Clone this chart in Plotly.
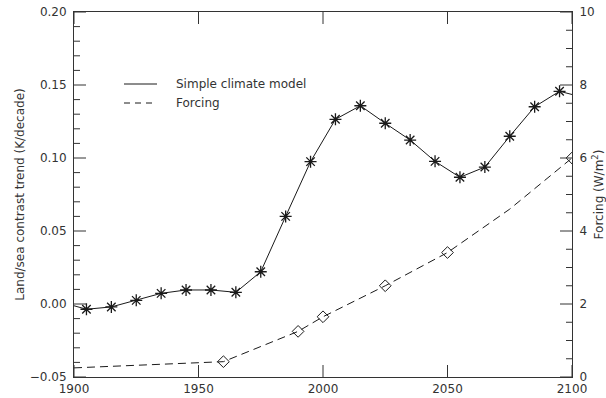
import plotly.graph_objects as go

# Simple climate model: land/sea contrast trend (K/decade), decadal means
model_years = [1905, 1915, 1925, 1935, 1945, 1955, 1965, 1975, 1985, 1995,
               2005, 2015, 2025, 2035, 2045, 2055, 2065, 2075, 2085, 2095]
model_trend = [-0.0036, -0.0020, 0.0025, 0.0073, 0.0096, 0.0096, 0.0080, 0.0221, 0.0600, 0.0975,
               0.1265, 0.1358, 0.1238, 0.1123, 0.0977, 0.0868, 0.0938, 0.1149, 0.1351, 0.1457]
# curve end points at the axis edges
model_start = (1900, -0.0012)
model_end = (2100, 0.1435)

# Radiative forcing (W/m^2)
forcing_marked_years = [1960, 1990, 2000, 2025, 2050, 2100]
forcing_marked_vals = [0.42, 1.25, 1.65, 2.50, 3.41, 6.00]
forcing_curve_years = [1900, 1960, 1990, 2000, 2025, 2050, 2075, 2100]
forcing_curve_vals = [0.25, 0.42, 1.25, 1.65, 2.50, 3.41, 4.60, 6.00]

x_ticks = [1900, 1950, 2000, 2050, 2100]
left_ticks = [-0.05, 0.00, 0.05, 0.10, 0.15, 0.20]
right_ticks = [0, 2, 4, 6, 8, 10]
left_minor_per_major = 5
right_minor_per_major = 4

INK = "#1a1a1a"
TXT = "#333333"
AX = "#333333"
FONT = "DejaVu Sans"

PLOT_W, PLOT_H = 498, 365
MAJOR_LEN, MINOR_LEN = 12, 6

fig = go.Figure()

line_x = [model_start[0]] + model_years + [model_end[0]]
line_y = [model_start[1]] + model_trend + [model_end[1]]
fig.add_trace(go.Scatter(x=line_x, y=line_y, mode="lines",
                         line=dict(color=INK, width=1), yaxis="y",
                         showlegend=False, hoverinfo="skip"))
fig.add_trace(go.Scatter(x=model_years, y=model_trend, mode="markers",
                         marker=dict(symbol="asterisk-open", size=10, color=INK,
                                     line=dict(color=INK, width=1.3)),
                         yaxis="y", showlegend=False))

fig.add_trace(go.Scatter(x=forcing_curve_years, y=forcing_curve_vals, mode="lines",
                         line=dict(color=INK, width=1, dash="8px,5px"), yaxis="y2",
                         showlegend=False, hoverinfo="skip"))
fig.add_trace(go.Scatter(x=forcing_marked_years, y=forcing_marked_vals, mode="markers",
                         marker=dict(symbol="diamond-open", size=9, color=INK,
                                     line=dict(color=INK, width=1)),
                         yaxis="y2", showlegend=False))

axis_common = dict(showgrid=False, zeroline=False, showline=True, automargin=False,
                   linecolor=AX, linewidth=1, ticks="",
                   tickfont=dict(family=FONT, size=12, color=TXT))

fig.update_layout(
    width=606, height=398,
    margin=dict(l=74, r=34, t=12, b=21),
    paper_bgcolor="white", plot_bgcolor="white",
    showlegend=False,
    xaxis=dict(range=[1900, 2100], tickvals=x_ticks, mirror=True,
               ticklabelstandoff=1, **axis_common),
    yaxis=dict(range=[left_ticks[0], left_ticks[-1]], tickvals=left_ticks, tickformat=".2f",
               ticklabelstandoff=4,
               title=dict(text="Land/sea contrast trend (K/decade)",
                          font=dict(family=FONT, size=12, color=TXT), standoff=2),
               **axis_common),
    yaxis2=dict(range=[right_ticks[0], right_ticks[-1]], tickvals=right_ticks,
                overlaying="y", side="right", ticklabelstandoff=4,
                title=dict(text="Forcing (W/m<sup>2</sup>)",
                           font=dict(family=FONT, size=12, color=TXT), standoff=2),
                **axis_common),
)

tick_line = dict(color=AX, width=1)


def y_tick(yref, value, length, on_right):
    frac = length / PLOT_W
    x0, x1 = (1 - frac, 1) if on_right else (0, frac)
    fig.add_shape(type="line", xref="paper", yref=yref, x0=x0, x1=x1,
                  y0=value, y1=value, line=tick_line, layer="above")


# inward ticks on the left (trend) axis
for i, v in enumerate(left_ticks):
    y_tick("y", v, MAJOR_LEN, False)
    if i + 1 < len(left_ticks):
        step = (left_ticks[i + 1] - v) / left_minor_per_major
        for k in range(1, left_minor_per_major):
            y_tick("y", v + k * step, MINOR_LEN, False)

# inward ticks on the right (forcing) axis
for i, v in enumerate(right_ticks):
    y_tick("y2", v, MAJOR_LEN, True)
    if i + 1 < len(right_ticks):
        step = (right_ticks[i + 1] - v) / right_minor_per_major
        for k in range(1, right_minor_per_major):
            y_tick("y2", v + k * step, MINOR_LEN, True)

# inward ticks on the bottom and top of the year axis
for v in x_ticks:
    fy = MAJOR_LEN / PLOT_H
    fig.add_shape(type="line", xref="x", yref="paper", x0=v, x1=v, y0=0, y1=fy,
                  line=tick_line, layer="above")
    fig.add_shape(type="line", xref="x", yref="paper", x0=v, x1=v, y0=1 - fy, y1=1,
                  line=tick_line, layer="above")

# legend drawn as line samples with text
legend_items = [("Simple climate model", "solid", 84),
                ("Forcing", "dash", 103)]
for label, dash, ypx in legend_items:
    fig.add_shape(type="line", xref="paper", yref="paper",
                  x0=(124 - 74) / PLOT_W, x1=(157 - 74) / PLOT_W,
                  y0=1 - (ypx - 12) / PLOT_H, y1=1 - (ypx - 12) / PLOT_H,
                  line=dict(color=INK, width=1,
                            dash="6px,5px" if dash == "dash" else "solid"))
    fig.add_annotation(xref="paper", yref="paper",
                       x=(174 - 74) / PLOT_W, y=1 - (ypx - 12) / PLOT_H,
                       text=label, showarrow=False, xanchor="left", yanchor="middle",
                       font=dict(family=FONT, size=12, color=TXT))

fig.write_html("out.html")
